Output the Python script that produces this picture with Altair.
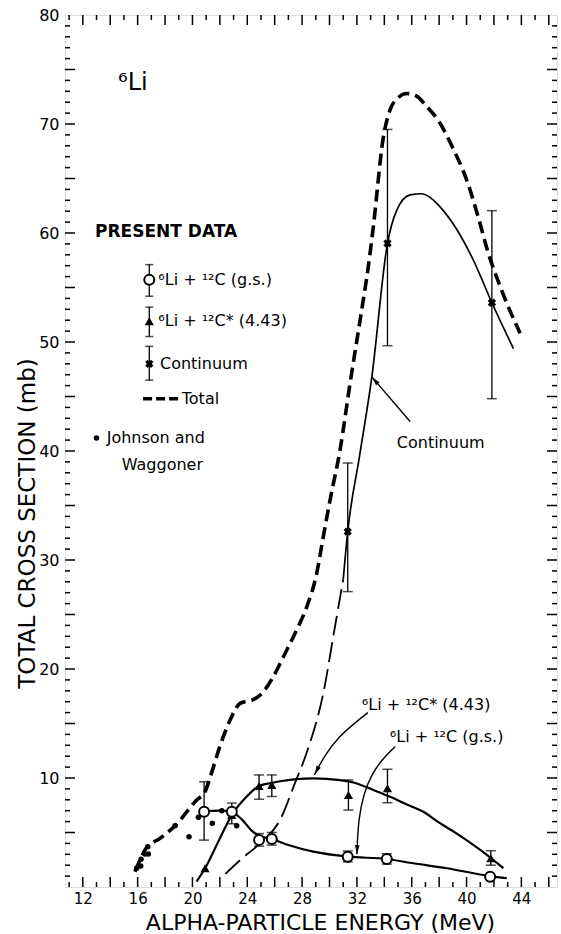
import altair as alt
import pandas as pd

FONT = "DejaVu Sans"
W, H = 492, 872
X_DOMAIN = [10.7, 46.6]
Y_DOMAIN = [0, 80]

# ---------------- data ----------------
# Johnson and Waggoner
jw_x = [15.93, 16.23, 16.25, 16.54, 16.78, 16.74, 18.73, 19.75, 20.43, 21.45, 22.14, 23.23]
jw_y = [1.72, 1.93, 2.54, 3.03, 3.03, 3.70, 5.62, 4.61, 6.39, 5.84, 7.0, 5.62]

# 6Li + 12C (g.s.)
gs_x = [20.85, 22.87, 24.86, 25.79, 31.33, 34.18, 41.72]
gs_y = [6.91, 6.91, 4.31, 4.40, 2.78, 2.57, 0.95]
gs_lo = [4.3, 6.91, 3.75, 3.85, 2.3, 2.1, 0.95]
gs_hi = [9.65, 6.91, 4.9, 5.0, 3.3, 3.05, 0.95]

# 6Li + 12C* (4.43)
ex_x = [20.92, 22.87, 24.86, 25.79, 31.38, 34.23, 41.77]
ex_y = [1.72, 6.6, 9.27, 9.36, 8.44, 9.05, 2.63]
ex_lo = [1.72, 5.8, 8.05, 8.3, 7.06, 7.73, 2.0]
ex_hi = [1.72, 7.7, 10.28, 10.28, 9.82, 10.8, 3.33]

# Continuum
co_x = [31.33, 34.23, 41.85]
co_y = [32.6, 59.05, 53.6]
co_lo = [27.1, 49.66, 44.8]
co_hi = [38.9, 69.5, 62.05]

# Curves
tot_x = [15.8, 16.17, 16.66, 17.63, 18.73, 20.31, 20.92, 21.3, 22.0, 22.74, 23.47, 24.0, 24.44,
         25.17, 25.9, 26.63, 27.61, 28.34, 29.07, 29.5, 30.04, 30.77, 31.5, 32.23, 32.84, 33.2,
         33.93, 34.42, 35.0, 35.64, 36.3, 37.1, 38.0, 39.0, 40.0, 41.0, 41.48, 42.45, 43.91]
tot_y = [1.4, 2.48, 3.64, 4.46, 5.62, 7.98, 8.74, 10.1, 12.9, 15.3, 16.85, 17.05, 17.2,
         17.9, 19.3, 21.1, 23.6, 25.7, 28.8, 31.8, 35.5, 40.1, 46.2, 52.0, 57.0, 60.6,
         68.8, 71.3, 72.4, 72.8, 72.6, 71.6, 70.2, 67.8, 64.9, 60.8, 58.6, 55.1, 50.8]

cd_x = [22.4, 23.6, 24.93, 26.39, 27.5, 28.3, 29.55, 30.4, 31.0]
cd_y = [1.2, 2.6, 4.0, 6.15, 9.6, 12.2, 17.8, 23.9, 28.2]

cs_x = [31.0, 31.33, 32.2, 33.09, 34.23, 34.91, 35.88, 36.73, 37.6, 38.07, 39.3, 40.5, 41.85, 43.42]
cs_y = [28.2, 32.6, 39.6, 46.8, 59.05, 62.1, 63.5, 63.6, 63.0, 62.4, 60.3, 57.5, 53.6, 49.4]

gsc_x = [20.85, 21.9, 22.87, 23.6, 24.3, 24.86, 25.79, 27.0, 28.82, 31.33, 34.18, 36.0, 38.56, 41.72, 42.94]
gsc_y = [6.95, 7.0, 6.9, 6.2, 5.2, 4.7, 4.4, 3.85, 3.24, 2.78, 2.57, 2.2, 1.72, 1.0, 0.8]

c43_x = [20.3, 20.92, 21.9, 22.87, 23.96, 24.86, 25.79, 26.39, 27.6, 28.82, 30.77, 31.99, 33.2,
         34.42, 35.6, 36.85, 38.0, 39.29, 41.0, 42.69]
c43_y = [0.5, 1.72, 4.2, 6.6, 8.3, 9.27, 9.55, 9.7, 9.9, 9.97, 9.8, 9.5, 8.9, 8.28, 7.6, 6.9,
         5.9, 4.9, 3.4, 1.72]

# Annotation arrows
arr_id = ["a43"] * 5 + ["ags"] * 6 + ["acon"] * 2
arr_x = [32.8, 31.8, 30.7, 29.7, 28.9,
         34.8, 33.9, 33.1, 32.5, 32.1, 32.0,
         35.88, 33.09]
arr_y = [16.0, 15.0, 13.8, 12.2, 10.3,
         12.9, 11.8, 10.4, 8.6, 6.2, 3.0,
         42.7, 46.8]
head_x = [28.9, 32.0, 33.09]
head_y = [10.3, 3.0, 46.8]
head_angle = [208, 182, 319.5]

# Texts
ann_text = ["Continuum", "⁶Li + ¹²C* (4.43)", "⁶Li + ¹²C (g.s.)"]
ann_x = [34.91, 32.36, 34.4]
ann_y = [40.7, 16.7, 13.8]

leg_text = ["⁶Li + ¹²C (g.s.)", "⁶Li + ¹²C* (4.43)", "Continuum", "Total", "Johnson and", "Waggoner"]
leg_x = [17.51, 17.51, 17.63, 19.22, 13.74, 14.84]
leg_y = [55.7, 51.9, 48.0, 44.8, 41.2, 38.7]

x_labels = [12, 16, 20, 24, 28, 32, 36, 40, 44]
y_labels = [10, 20, 30, 40, 50, 60, 70, 80]
x_major = list(range(12, 47, 2))
x_minor = list(range(11, 47, 2))
y_major = list(range(5, 80, 5))
y_minor = [v for v in range(1, 80) if v % 5 != 0]

# ---------------- encodings ----------------
xaxis = alt.Axis(values=x_labels, title="ALPHA-PARTICLE ENERGY (MeV)", ticks=False, domain=False,
                 grid=False, labelFont=FONT, labelFontSize=15, labelColor="black", labelPadding=4,
                 titleFont=FONT, titleFontSize=22, titleFontWeight="normal", titleColor="black",
                 titleX=255, titleY=35, titleBaseline="middle", titleAlign="center")
yaxis = alt.Axis(values=y_labels, title="TOTAL CROSS SECTION (mb)", ticks=False, domain=False,
                 grid=False, labelFont=FONT, labelFontSize=16, labelColor="black", labelPadding=6,
                 titleFont=FONT, titleFontSize=23, titleFontWeight="normal", titleColor="black",
                 titleX=-38, titleY=508, titleBaseline="middle", titleAlign="center", titleAngle=270)
xs = alt.Scale(domain=X_DOMAIN, nice=False, zero=False)
ys = alt.Scale(domain=Y_DOMAIN, nice=False, zero=False)


def X(f="x"):
    return alt.X(f + ":Q", scale=xs, axis=xaxis)


def Y(f="y"):
    return alt.Y(f + ":Q", scale=ys, axis=yaxis)


def df(**kw):
    return pd.DataFrame(kw)


layers = []

# inward ticks
for vals, ln in ((x_major, 10), (x_minor, 5)):
    d = df(x=vals)
    layers.append(alt.Chart(d).mark_rule(color="black", strokeWidth=1.5).encode(
        x=X(), y=alt.value(H), y2=alt.value(H - ln)))
    layers.append(alt.Chart(d).mark_rule(color="black", strokeWidth=1.5).encode(
        x=X(), y=alt.value(0), y2=alt.value(ln)))
for vals, ln in ((y_major, 10), (y_minor, 5)):
    d = df(y=vals)
    layers.append(alt.Chart(d).mark_rule(color="black", strokeWidth=1.5).encode(
        y=Y(), x=alt.value(0), x2=alt.value(ln)))
    layers.append(alt.Chart(d).mark_rule(color="black", strokeWidth=1.5).encode(
        y=Y(), x=alt.value(W), x2=alt.value(W - ln)))

# curves
layers.append(alt.Chart(df(x=tot_x, y=tot_y)).mark_line(
    color="black", strokeWidth=3.6, strokeDash=[12, 6], interpolate="monotone").encode(x=X(), y=Y()))
layers.append(alt.Chart(df(x=cd_x, y=cd_y)).mark_line(
    color="black", strokeWidth=1.8, strokeDash=[20, 7], interpolate="monotone").encode(x=X(), y=Y()))
layers.append(alt.Chart(df(x=cs_x, y=cs_y)).mark_line(
    color="black", strokeWidth=1.7, interpolate="monotone").encode(x=X(), y=Y()))
layers.append(alt.Chart(df(x=gsc_x, y=gsc_y)).mark_line(
    color="black", strokeWidth=2.2, interpolate="monotone").encode(x=X(), y=Y()))
layers.append(alt.Chart(df(x=c43_x, y=c43_y)).mark_line(
    color="black", strokeWidth=2.2, interpolate="monotone").encode(x=X(), y=Y()))

# arrows
layers.append(alt.Chart(df(g=arr_id, x=arr_x, y=arr_y, o=list(range(len(arr_x))))).mark_line(
    color="black", strokeWidth=1.4, interpolate="basis").encode(
    x=X(), y=Y(), detail="g:N", order="o:Q"))
layers.append(alt.Chart(df(x=head_x, y=head_y, a=head_angle)).mark_point(
    shape="M0,0L0.55,2.2L-0.55,2.2Z", filled=True, color="black", size=70, opacity=1).encode(
    x=X(), y=Y(), angle=alt.Angle("a:Q", scale=None)))

# error bars
for xx, lo, hi in ((gs_x, gs_lo, gs_hi), (ex_x, ex_lo, ex_hi), (co_x, co_lo, co_hi)):
    d = df(x=xx, lo=lo, hi=hi)
    d = d[d.lo != d.hi]
    layers.append(alt.Chart(d).mark_rule(color="black", strokeWidth=1.3).encode(
        x=X(), y=Y("lo"), y2=alt.Y2("hi:Q")))
    layers.append(alt.Chart(d).mark_tick(orient="horizontal", color="black", size=10, thickness=1.5).encode(
        x=X(), y=Y("lo")))
    layers.append(alt.Chart(d).mark_tick(orient="horizontal", color="black", size=10, thickness=1.5).encode(
        x=X(), y=Y("hi")))

# legend symbol error bars
leg_sym_x = [16.85, 16.85, 16.85]
leg_sym_y = [55.7, 51.9, 48.0]
leg_lo = [54.2, 50.5, 46.5]
leg_hi = [57.1, 53.2, 49.6]
dl = df(x=leg_sym_x, lo=leg_lo, hi=leg_hi)
layers.append(alt.Chart(dl).mark_rule(color="black", strokeWidth=1.3).encode(
    x=X(), y=Y("lo"), y2=alt.Y2("hi:Q")))
layers.append(alt.Chart(dl).mark_tick(orient="horizontal", color="black", size=8, thickness=1.5).encode(
    x=X(), y=Y("lo")))
layers.append(alt.Chart(dl).mark_tick(orient="horizontal", color="black", size=8, thickness=1.5).encode(
    x=X(), y=Y("hi")))

# symbols
layers.append(alt.Chart(df(x=jw_x, y=jw_y)).mark_point(
    shape="circle", filled=True, color="black", size=30, opacity=1).encode(x=X(), y=Y()))
layers.append(alt.Chart(df(x=ex_x + [leg_sym_x[1]], y=ex_y + [leg_sym_y[1]])).mark_point(
    shape="triangle-up", filled=True, color="black", size=85, opacity=1).encode(x=X(), y=Y()))
layers.append(alt.Chart(df(x=gs_x + [leg_sym_x[0]], y=gs_y + [leg_sym_y[0]])).mark_point(
    shape="circle", filled=True, fill="white", stroke="black", strokeWidth=2, size=100, opacity=1).encode(
    x=X(), y=Y()))
layers.append(alt.Chart(df(x=co_x + [leg_sym_x[2]], y=co_y + [leg_sym_y[2]])).mark_point(
    shape="cross", angle=45, filled=True, color="black", size=70, opacity=1).encode(x=X(), y=Y()))

# legend: dashed sample and dot
layers.append(alt.Chart(df(x=[16.4, 19.1], y=[44.8, 44.8])).mark_line(
    color="black", strokeWidth=3.6, strokeDash=[9, 4]).encode(x=X(), y=Y()))
layers.append(alt.Chart(df(x=[13.0], y=[41.2])).mark_point(
    shape="circle", filled=True, color="black", size=30, opacity=1).encode(x=X(), y=Y()))

# texts
layers.append(alt.Chart(df(x=leg_x, y=leg_y, t=leg_text)).mark_text(
    align="left", baseline="middle", font=FONT, fontSize=16, color="black").encode(
    x=X(), y=Y(), text="t:N"))
layers.append(alt.Chart(df(x=[12.89], y=[60.1], t=["PRESENT DATA"])).mark_text(
    align="left", baseline="middle", font=FONT, fontSize=17, fontWeight="bold", color="black").encode(
    x=X(), y=Y(), text="t:N"))
layers.append(alt.Chart(df(x=ann_x, y=ann_y, t=ann_text)).mark_text(
    align="left", baseline="middle", font=FONT, fontSize=16, color="black").encode(
    x=X(), y=Y(), text="t:N"))
layers.append(alt.Chart(df(x=[14.57], y=[73.8], t=["⁶Li"])).mark_text(
    align="left", baseline="middle", font=FONT, fontSize=24, color="black").encode(
    x=X(), y=Y(), text="t:N"))

chart = alt.layer(*layers).properties(
    width=W, height=H,
    padding={"left": 65, "top": 15, "right": 4, "bottom": 47},
    autosize=alt.AutoSizeParams(type="none"),
).configure_view(stroke="black", strokeWidth=3).configure(background="white")

chart.save("out.html", embed_options={"renderer": "svg", "actions": False})
